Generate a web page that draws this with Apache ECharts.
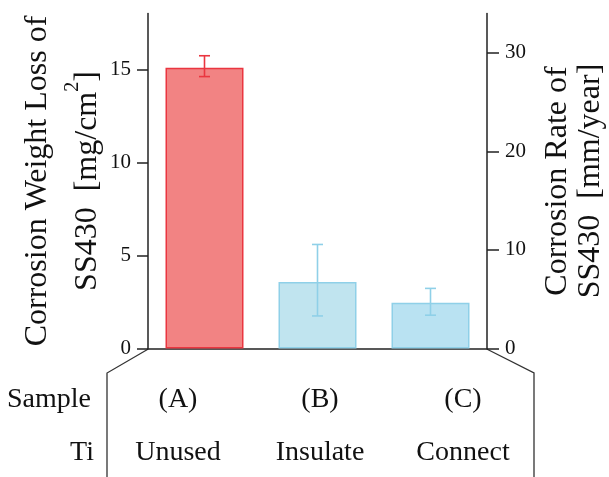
<!DOCTYPE html>
<html>
<head>
<meta charset="utf-8">
<script src="https://cdn.jsdelivr.net/npm/echarts@6/dist/echarts.min.js"></script>
<style>
html,body{margin:0;padding:0;background:#fff;}
#c{width:609px;height:477px;}
</style>
</head>
<body>
<div id="c"></div>
<script>
// ---- data ----
var categories = ['(A)', '(B)', '(C)'];
var tiLabels = ['Unused', 'Insulate', 'Connect'];
var weightLoss = [15.08, 3.57, 2.46];
var errLow = [14.61, 1.75, 1.79];
var errHigh = [15.73, 5.59, 3.23];
var leftTicks = [0, 5, 10, 15];
var rightTicks = [0, 10, 20, 30];

var FONT = '"Liberation Serif", "Times New Roman", serif';
var fills = ['#f28383', '#c0e4ef', '#b9e2f2'];
var borders = ['#ea3640', '#8fd0e8', '#8fd0e8'];

var chart = echarts.init(document.getElementById('c'), null, {renderer: 'canvas'});

var barData = weightLoss.map(function (v, i) {
  return {value: v, itemStyle: {color: fills[i], borderColor: borders[i], borderWidth: 1.5}};
});
var errData = weightLoss.map(function (v, i) { return [i, errLow[i], errHigh[i]]; });

var option = {
  backgroundColor: '#fff',
  animation: false,
  grid: {left: 148, right: 122, top: 13.5, bottom: 128.5, containLabel: false, outerBoundsMode: 'none'},
  xAxis: {
    type: 'category',
    data: categories,
    axisLine: {show: true, lineStyle: {color: '#222', width: 1.5}},
    axisTick: {show: false},
    axisLabel: {show: false},
    splitLine: {show: false}
  },
  yAxis: [{
    type: 'value', min: 0, max: 18, position: 'left',
    axisLine: {show: true, lineStyle: {color: '#222', width: 1.5}},
    axisTick: {show: true, length: 11, inside: false, customValues: leftTicks, lineStyle: {color: '#222', width: 1.5}},
    axisLabel: {customValues: leftTicks, margin: 17, fontSize: 21, fontFamily: FONT, color: '#111'},
    splitLine: {show: false},
    name: '{a|Corrosion Weight Loss of}\n{b|SS430  [mg/cm}{s|2}{b|]}',
    nameLocation: 'middle', nameRotate: 90, nameGap: 35, nameMoveOverlap: false,
    nameTextStyle: {
      fontFamily: FONT, color: '#111',
      rich: {
        a: {fontSize: 32, lineHeight: 50, fontFamily: FONT, color: '#111'},
        b: {fontSize: 32, lineHeight: 50, fontFamily: FONT, color: '#111'},
        s: {fontSize: 20, lineHeight: 10, verticalAlign: 'top', fontFamily: FONT, color: '#111'}
      }
    }
  }, {
    type: 'value', min: 0, max: 34, position: 'right',
    axisLine: {show: true, lineStyle: {color: '#222', width: 1.5}},
    axisTick: {show: true, length: 12, inside: false, customValues: rightTicks, lineStyle: {color: '#222', width: 1.5}},
    axisLabel: {customValues: rightTicks, margin: 18, fontSize: 21, fontFamily: FONT, color: '#111'},
    splitLine: {show: false},
    name: '{a|Corrosion Rate of}\n{a|SS430  [mm/year]}',
    nameLocation: 'middle', nameRotate: 90, nameGap: 54, nameMoveOverlap: false,
    nameTextStyle: {
      fontFamily: FONT, color: '#111',
      rich: {a: {fontSize: 32, lineHeight: 33, fontFamily: FONT, color: '#111'}}
    }
  }],
  series: [{
    type: 'bar', yAxisIndex: 0, barWidth: 78, data: barData, z: 2
  }, {
    type: 'custom', yAxisIndex: 0, z: 5, data: errData,
    renderItem: function (params, api) {
      var i = params.dataIndex;
      var top = api.coord([api.value(0), api.value(2)]);
      var bot = api.coord([api.value(0), api.value(1)]);
      var hw = 5.5;
      var st = {stroke: borders[i], lineWidth: 1.6};
      return {type: 'group', children: [
        {type: 'line', shape: {x1: top[0], y1: top[1], x2: bot[0], y2: bot[1]}, style: st},
        {type: 'line', shape: {x1: top[0] - hw, y1: top[1], x2: top[0] + hw, y2: top[1]}, style: st},
        {type: 'line', shape: {x1: bot[0] - hw, y1: bot[1], x2: bot[0] + hw, y2: bot[1]}, style: st}
      ]};
    }
  }],
  graphic: []
};

var g = [];
g.push({type: 'polyline', shape: {points: [[148.3, 349], [107, 373], [107, 477]]}, style: {stroke: '#333', lineWidth: 1.3, fill: null}});
g.push({type: 'polyline', shape: {points: [[486.7, 349], [534, 373], [534, 477]]}, style: {stroke: '#333', lineWidth: 1.3, fill: null}});
function txt(t, x, y, al) {
  return {type: 'text', x: x, y: y, style: {text: t, font: '28px ' + FONT, fill: '#111', align: al, textAlign: al, verticalAlign: 'middle', textVerticalAlign: 'middle'}};
}
g.push(txt('Sample', 91, 400, 'right'));
g.push(txt('Ti', 94, 453, 'right'));
var colX = [178, 320, 463];
categories.forEach(function (c, i) { g.push(txt(c, colX[i], 400, 'center')); });
tiLabels.forEach(function (c, i) { g.push(txt(c, colX[i], 453, 'center')); });
option.graphic = g;

chart.setOption(option);
</script>
</body>
</html>
